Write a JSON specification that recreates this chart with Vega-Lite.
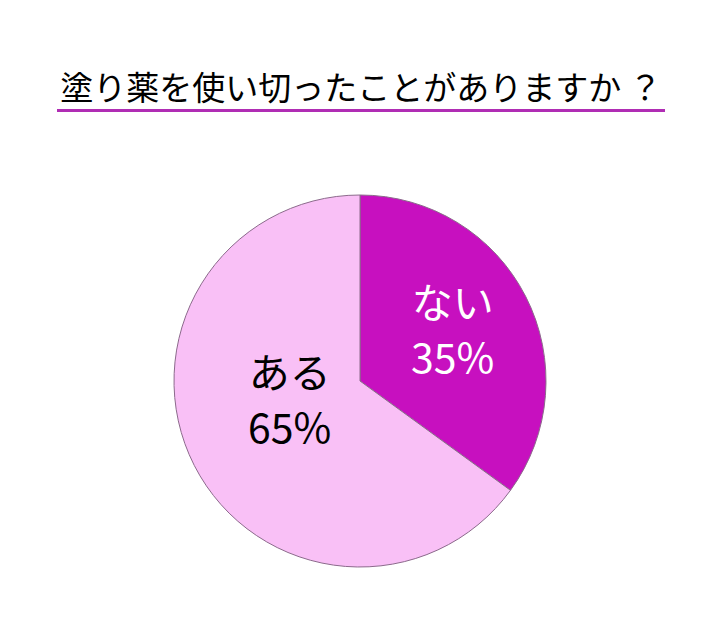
{
  "$schema": "https://vega.github.io/schema/vega-lite/v6.json",
  "padding": {"top": 74, "left": 57, "right": 55, "bottom": 0},
  "background": "white",
  "title": {
    "text": "塗り薬を使い切ったことがありますか ？",
    "font": "Noto Sans CJK JP",
    "fontSize": 33,
    "fontWeight": "normal",
    "color": "black",
    "anchor": "middle",
    "offset": 2
  },
  "spacing": 0,
  "vconcat": [
    {
      "width": 608,
      "height": 3,
      "data": {"values": [{}]},
      "mark": {"type": "rect", "color": "#B02DB4"},
      "encoding": {},
      "view": {"stroke": null, "fill": "#B02DB4"}
    },
    {
      "width": 606,
      "height": 538,
      "data": {
        "values": [
          {"category": "ない", "share": 0.35},
          {"category": "ある", "share": 0.65}
        ]
      },
      "layer": [
        {
          "mark": {"type": "arc", "outerRadius": 186, "stroke": "#8C6A8C", "strokeWidth": 1},
          "encoding": {
            "theta": {"field": "share", "type": "quantitative", "stack": true},
            "order": {"field": "category", "sort": "descending"},
            "color": {
              "field": "category",
              "type": "nominal",
              "scale": {"domain": ["ない", "ある"], "range": ["#C710BF", "#F9C0F6"]},
              "legend": null
            }
          }
        },
        {
          "mark": {"type": "text", "radius": 104, "dy": -28, "fontSize": 41, "font": "Noto Sans CJK JP", "color": "white"},
          "encoding": {
            "theta": {"field": "share", "type": "quantitative", "stack": true},
            "order": {"field": "category", "sort": "descending"},
            "text": {"condition": {"test": "datum.category !== 'ない'", "value": ""}, "field": "category", "type": "nominal"}
          }
        },
        {
          "mark": {"type": "text", "radius": 104, "dy": 27, "fontSize": 41, "font": "Noto Sans CJK JP", "color": "white"},
          "encoding": {
            "theta": {"field": "share", "type": "quantitative", "stack": true},
            "order": {"field": "category", "sort": "descending"},
            "text": {"condition": {"test": "datum.category !== 'ない'", "value": ""}, "field": "share", "type": "quantitative", "format": ".0%"}
          }
        },
        {
          "mark": {"type": "text", "radius": 70, "dx": -8, "dy": -37, "fontSize": 41, "font": "Noto Sans CJK JP", "color": "black"},
          "encoding": {
            "theta": {"field": "share", "type": "quantitative", "stack": true},
            "order": {"field": "category", "sort": "descending"},
            "text": {"condition": {"test": "datum.category !== 'ある'", "value": ""}, "field": "category", "type": "nominal"}
          }
        },
        {
          "mark": {"type": "text", "radius": 70, "dx": -8, "dy": 18, "fontSize": 41, "font": "Noto Sans CJK JP", "color": "black"},
          "encoding": {
            "theta": {"field": "share", "type": "quantitative", "stack": true},
            "order": {"field": "category", "sort": "descending"},
            "text": {"condition": {"test": "datum.category !== 'ある'", "value": ""}, "field": "share", "type": "quantitative", "format": ".0%"}
          }
        }
      ]
    }
  ],
  "config": {"view": {"stroke": null}}
}
